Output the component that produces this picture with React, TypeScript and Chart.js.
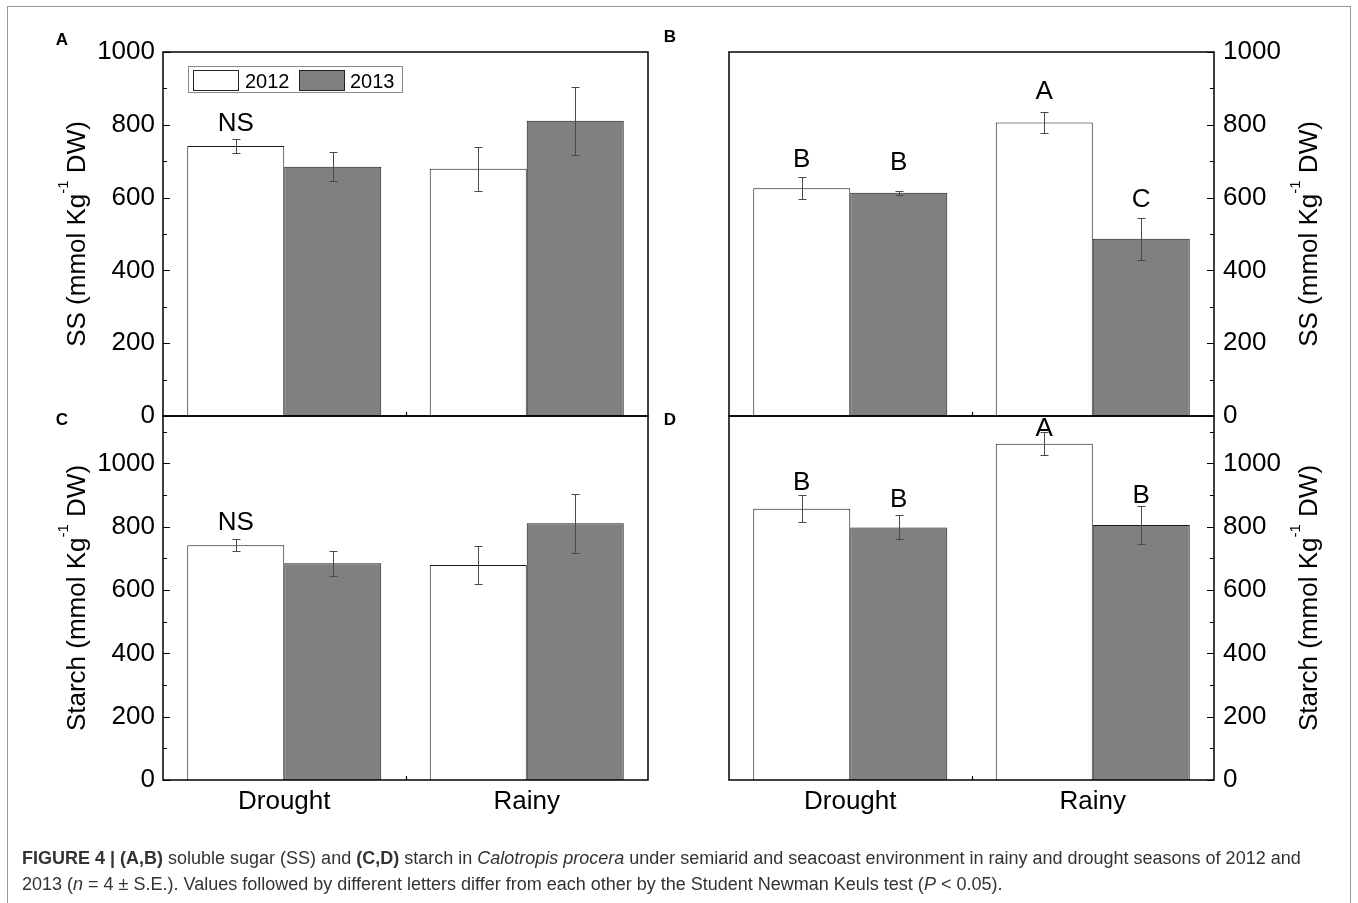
import React, { useEffect, useRef } from 'react';
import { Chart, registerables } from 'chart.js';

Chart.register(...registerables);

const FONT = '"Liberation Sans", Arial, Helvetica, sans-serif';

// ---------- data ----------
const categories = ['Drought', 'Rainy'];
const years = ['2012', '2013'];

// A: soluble sugar (left column)
const ssA2012 = [742, 679];
const ssA2012Err = [20, 60];
const ssA2013 = [685, 811];
const ssA2013Err = [40, 93];
const ssALetters2012 = ['NS', ''];
const ssALetters2013 = ['', ''];
const ssALetterLevel2012 = [802, 0];
const ssALetterLevel2013 = [0, 0];

// B: soluble sugar (right column)
const ssB2012 = [626, 806];
const ssB2012Err = [30, 28];
const ssB2013 = [613, 487];
const ssB2013Err = [6, 58];
const ssBLetters2012 = ['B', 'A'];
const ssBLetters2013 = ['B', 'C'];
const ssBLetterLevel2012 = [703, 891];
const ssBLetterLevel2013 = [696, 593];

// C: starch (left column)
const stC2012 = [742, 679];
const stC2012Err = [20, 60];
const stC2013 = [685, 811];
const stC2013Err = [40, 93];
const stCLetters2012 = ['NS', ''];
const stCLetters2013 = ['', ''];
const stCLetterLevel2012 = [811, 0];
const stCLetterLevel2013 = [0, 0];

// D: starch (right column)
const stD2012 = [857, 1062];
const stD2012Err = [43, 36];
const stD2013 = [798, 806];
const stD2013Err = [38, 60];
const stDLetters2012 = ['B', 'A'];
const stDLetters2013 = ['B', 'B'];
const stDLetterLevel2012 = [938, 1110];
const stDLetterLevel2013 = [886, 898];

const ssTitle = ['SS (mmol Kg', '-1', ' DW)'];
const starchTitle = ['Starch (mmol Kg', '-1', ' DW)'];

const caption1Bold = 'FIGURE 4 | (A,B)';
const caption1a = ' soluble sugar (SS) and ';
const caption1Bold2 = '(C,D)';
const caption1b = ' starch in ';
const caption1Italic = 'Calotropis procera';
const caption1c = ' under semiarid and seacoast environment in rainy and drought seasons of 2012 and';

// ---------- layout ----------
const W = 1358;
const H = 903;
const AXIS_W = 90;
const XAXIS_H = 40;

type PanelCfg = {
  key: string;
  side: 'left' | 'right';
  yMax: number;
  top: number;
  bottom: number;
  left: number;
  right: number;
  showX: boolean;
  legend: boolean;
  title: string[];
  titleBaseX: number;
  panelLetter: string;
  letterX: number;
  letterY: number;
  values: number[][];
  errors: number[][];
  letters: string[][];
  letterLevels: number[][];
};

const panels: PanelCfg[] = [
  {
    key: 'A', side: 'left', yMax: 1000, top: 52, bottom: 416, left: 163, right: 648,
    showX: false, legend: true, title: ssTitle, titleBaseX: 85,
    panelLetter: 'A', letterX: 62, letterY: 40,
    values: [ssA2012, ssA2013], errors: [ssA2012Err, ssA2013Err],
    letters: [ssALetters2012, ssALetters2013], letterLevels: [ssALetterLevel2012, ssALetterLevel2013],
  },
  {
    key: 'B', side: 'right', yMax: 1000, top: 52, bottom: 416, left: 729, right: 1214,
    showX: false, legend: false, title: ssTitle, titleBaseX: 1317,
    panelLetter: 'B', letterX: 670, letterY: 37,
    values: [ssB2012, ssB2013], errors: [ssB2012Err, ssB2013Err],
    letters: [ssBLetters2012, ssBLetters2013], letterLevels: [ssBLetterLevel2012, ssBLetterLevel2013],
  },
  {
    key: 'C', side: 'left', yMax: 1150, top: 416, bottom: 780, left: 163, right: 648,
    showX: true, legend: false, title: starchTitle, titleBaseX: 85,
    panelLetter: 'C', letterX: 62, letterY: 420,
    values: [stC2012, stC2013], errors: [stC2012Err, stC2013Err],
    letters: [stCLetters2012, stCLetters2013], letterLevels: [stCLetterLevel2012, stCLetterLevel2013],
  },
  {
    key: 'D', side: 'right', yMax: 1150, top: 416, bottom: 780, left: 729, right: 1214,
    showX: true, legend: false, title: starchTitle, titleBaseX: 1317,
    panelLetter: 'D', letterX: 670, letterY: 420,
    values: [stD2012, stD2013], errors: [stD2012Err, stD2013Err],
    letters: [stDLetters2012, stDLetters2013], letterLevels: [stDLetterLevel2012, stDLetterLevel2013],
  },
];

const fills = ['#ffffff', '#808080'];

function drawRotatedTitle(ctx: CanvasRenderingContext2D, parts: string[], baseX: number, cy: number) {
  const mainFont = `26px ${FONT}`;
  const supFont = `15px ${FONT}`;
  ctx.save();
  ctx.font = mainFont;
  const w0 = ctx.measureText(parts[0]).width;
  const w2 = ctx.measureText(parts[2]).width;
  ctx.font = supFont;
  const w1 = ctx.measureText(parts[1]).width;
  const total = w0 + w1 + w2;
  ctx.translate(baseX, cy);
  ctx.rotate(-Math.PI / 2);
  ctx.fillStyle = '#000';
  ctx.textAlign = 'left';
  ctx.textBaseline = 'alphabetic';
  let x = -total / 2;
  ctx.font = mainFont;
  ctx.fillText(parts[0], x, 0);
  x += w0;
  ctx.font = supFont;
  ctx.fillText(parts[1], x, -17);
  x += w1;
  ctx.font = mainFont;
  ctx.fillText(parts[2], x, 0);
  ctx.restore();
}

function makeDecor(p: PanelCfg) {
  return {
    id: 'decor' + p.key,
    afterDatasetsDraw(chart: any) {
      const ctx: CanvasRenderingContext2D = chart.ctx;
      const { left, right, top, bottom } = chart.chartArea;
      const ys = chart.scales.y;
      const xs = chart.scales.x;
      ctx.save();
      // error bars
      ctx.strokeStyle = '#4a4a4a';
      ctx.lineWidth = 1;
      p.errors.forEach((errs, di) => {
        const meta = chart.getDatasetMeta(di);
        meta.data.forEach((el: any, ci: number) => {
          const v = p.values[di][ci];
          const e = errs[ci];
          const x = Math.round(el.x) + 0.5;
          const y1 = Math.round(ys.getPixelForValue(v + e)) + 0.5;
          const y2 = Math.round(ys.getPixelForValue(v - e)) + 0.5;
          ctx.beginPath();
          ctx.moveTo(x, y1);
          ctx.lineTo(x, y2);
          ctx.moveTo(x - 4, y1);
          ctx.lineTo(x + 4, y1);
          ctx.moveTo(x - 4, y2);
          ctx.lineTo(x + 4, y2);
          ctx.stroke();
        });
      });
      // significance letters
      ctx.fillStyle = '#000';
      ctx.font = `26px ${FONT}`;
      ctx.textAlign = 'center';
      ctx.textBaseline = 'middle';
      p.letters.forEach((ls, di) => {
        const meta = chart.getDatasetMeta(di);
        ls.forEach((t, ci) => {
          if (!t) return;
          const el: any = meta.data[ci];
          ctx.fillText(t, el.x, ys.getPixelForValue(p.letterLevels[di][ci]));
        });
      });
      // frame
      ctx.strokeStyle = '#000';
      ctx.lineWidth = 1.5;
      ctx.strokeRect(left, top, right - left, bottom - top);
      // inward y ticks
      ctx.lineWidth = 1.2;
      ctx.beginPath();
      for (let v = 0; v <= p.yMax; v += 100) {
        const y = Math.round(ys.getPixelForValue(v)) + 0.5;
        const len = v % 200 === 0 ? 7 : 4;
        if (p.side === 'left') {
          ctx.moveTo(left, y);
          ctx.lineTo(left + len, y);
        } else {
          ctx.moveTo(right, y);
          ctx.lineTo(right - len, y);
        }
      }
      // x tick at category boundary
      const xm = Math.round((xs.getPixelForValue(0) + xs.getPixelForValue(1)) / 2) + 0.5;
      ctx.moveTo(xm, bottom);
      ctx.lineTo(xm, bottom - 4);
      ctx.stroke();
      ctx.restore();
    },
    afterDraw(chart: any) {
      const ctx: CanvasRenderingContext2D = chart.ctx;
      const { top, bottom } = chart.chartArea;
      ctx.save();
      drawRotatedTitle(ctx, p.title, p.titleBaseX, (top + bottom) / 2);
      // panel letter
      ctx.fillStyle = '#000';
      ctx.font = `bold 17px ${FONT}`;
      ctx.textAlign = 'center';
      ctx.textBaseline = 'middle';
      ctx.fillText(p.panelLetter, p.letterX, p.letterY);
      if (p.legend) {
        const ds = chart.data.datasets;
        ctx.strokeStyle = '#8a8a8a';
        ctx.lineWidth = 1;
        ctx.strokeRect(188.5, 66.5, 214, 26);
        const swX = [193.5, 299.5];
        const txX = [245, 350];
        ds.forEach((d: any, i: number) => {
          ctx.fillStyle = d.backgroundColor;
          ctx.fillRect(swX[i], 70.5, 45, 20);
          ctx.strokeStyle = '#222';
          ctx.strokeRect(swX[i], 70.5, 45, 20);
          ctx.fillStyle = '#000';
          ctx.font = `20px ${FONT}`;
          ctx.textAlign = 'left';
          ctx.textBaseline = 'alphabetic';
          ctx.fillText(d.label, txX[i], 87.5);
        });
      }
      ctx.restore();
    },
  };
}

function Panel({ p }: { p: PanelCfg }) {
  const ref = useRef<HTMLCanvasElement | null>(null);
  useEffect(() => {
    if (!ref.current) return;
    const padLeft = p.side === 'left' ? p.left - AXIS_W : p.left;
    const padRight = p.side === 'left' ? W - p.right : W - p.right - AXIS_W;
    // the x scale box always reserves XAXIS_H (labels hidden on top row)
    const padBottom = H - p.bottom - XAXIS_H;
    const chart = new Chart(ref.current, {
      type: 'bar',
      data: {
        labels: categories,
        datasets: years.map((y, i) => ({
          label: y,
          data: p.values[i],
          backgroundColor: fills[i],
          borderColor: '#1a1a1a',
          borderWidth: 1,
          categoryPercentage: 0.8,
          barPercentage: 1.0,
        })),
      },
      options: {
        responsive: false,
        maintainAspectRatio: false,
        animation: false,
        devicePixelRatio: 1,
        events: [],
        layout: { padding: { left: padLeft, right: padRight, top: p.top, bottom: padBottom } },
        plugins: { legend: { display: false }, tooltip: { enabled: false } },
        scales: {
          x: {
            display: true,
            grid: { display: false, drawTicks: false },
            border: { display: false },
            ticks: { display: p.showX, padding: 6, color: '#000', font: { family: FONT, size: 26 } },
            afterFit: (s: any) => { s.height = XAXIS_H; },
          },
          y: {
            position: p.side,
            min: 0,
            max: p.yMax,
            grid: { display: false, drawTicks: false },
            border: { display: false },
            ticks: {
              stepSize: 200,
              autoSkip: false,
              padding: p.side === 'left' ? 8 : 9,
              color: '#000',
              font: { family: FONT, size: 26 },
              callback: (v: any) => (Number(v) % 200 === 0 ? String(v) : ''),
            },
            afterFit: (s: any) => { s.width = AXIS_W; },
          },
        },
      } as any,
      plugins: [makeDecor(p)],
    });
    return () => chart.destroy();
  }, [p]);
  return (
    <canvas
      ref={ref}
      width={W}
      height={H}
      style={{ position: 'absolute', left: 0, top: 0, width: W, height: H, display: 'block' }}
    />
  );
}

export default function App() {
  return (
    <div style={{ position: 'absolute', left: 0, top: 0, width: W, height: H, background: '#fff', overflow: 'hidden' }}>
      <div
        style={{
          position: 'absolute', left: 7, top: 6, width: 1342, height: 920,
          borderLeft: '1.5px solid #999', borderTop: '1.5px solid #999', borderRight: '1.5px solid #999',
        }}
      />
      {panels.map((p) => (
        <Panel key={p.key} p={p} />
      ))}
      <div
        style={{
          position: 'absolute', left: 22, top: 845, whiteSpace: 'nowrap',
          fontFamily: FONT, fontSize: 18, lineHeight: '26px', color: '#333',
        }}
      >
        <b>{caption1Bold}</b>{caption1a}<b>{caption1Bold2}</b>{caption1b}<i>{caption1Italic}</i>{caption1c}
        <br />
        2013 (<i>n</i> = 4 ± S.E.). Values followed by different letters differ from each other by the Student Newman Keuls test (<i>P</i> &lt; 0.05).
      </div>
    </div>
  );
}
